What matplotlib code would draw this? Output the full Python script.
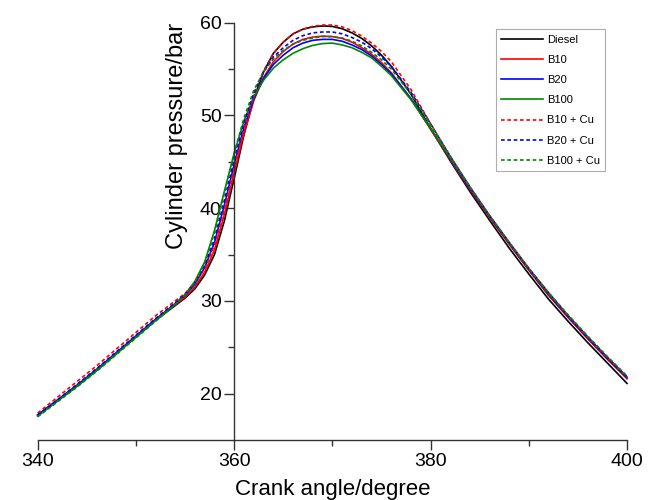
import matplotlib
matplotlib.use('Agg')
import matplotlib.pyplot as plt
from matplotlib.ticker import MultipleLocator

plt.rcParams['font.family'] = ['Liberation Sans', 'DejaVu Sans']

# crank angle grid (degree)
angle = [340, 342, 344, 346, 348, 350, 352, 354, 355, 356, 357, 358, 359, 360,
         361, 362, 363, 364, 365, 366, 367, 368, 369, 370, 371, 372, 373, 374,
         375, 376, 378, 380, 382, 384, 386, 388, 390, 392, 394, 396, 398, 400]

# cylinder pressure (bar)
diesel = [17.6, 19.2, 20.8, 22.5, 24.3, 26.1, 27.9, 29.5, 30.3, 31.3, 32.8, 35.0, 38.6, 43.2,
          47.9, 51.8, 54.7, 56.7, 57.9, 58.8, 59.3, 59.55, 59.65, 59.6, 59.35, 58.9, 58.3, 57.5,
          56.5, 55.3, 52.3, 48.6, 45.1, 41.8, 38.7, 35.7, 32.9, 30.2, 27.8, 25.5, 23.3, 21.1]
b10 = [17.7, 19.3, 20.9, 22.6, 24.4, 26.2, 28.0, 29.6, 30.4, 31.5, 33.1, 35.5, 39.3, 43.8,
       48.1, 51.6, 54.1, 55.8, 56.9, 57.7, 58.2, 58.45, 58.55, 58.5, 58.3, 57.9, 57.3, 56.6,
       55.7, 54.6, 51.8, 48.5, 45.2, 42.0, 39.0, 36.1, 33.3, 30.6, 28.2, 25.9, 23.7, 21.6]
b20 = [17.7, 19.3, 20.9, 22.6, 24.4, 26.2, 28.0, 29.7, 30.6, 31.8, 33.6, 36.3, 40.3, 44.7,
       48.7, 51.8, 54.0, 55.5, 56.5, 57.3, 57.8, 58.1, 58.2, 58.2, 58.0, 57.6, 57.1, 56.4,
       55.5, 54.5, 51.8, 48.6, 45.3, 42.1, 39.1, 36.2, 33.4, 30.7, 28.3, 26.0, 23.8, 21.7]
b100 = [17.6, 19.2, 20.8, 22.5, 24.3, 26.1, 27.9, 29.7, 30.7, 32.1, 34.2, 37.6, 41.8, 45.9,
        49.4, 52.0, 53.8, 55.1, 56.0, 56.7, 57.2, 57.55, 57.75, 57.8, 57.6, 57.3, 56.8, 56.2,
        55.3, 54.3, 51.7, 48.6, 45.4, 42.2, 39.2, 36.3, 33.5, 30.8, 28.4, 26.1, 23.9, 21.8]
b10_cu = [17.9, 19.6, 21.3, 23.0, 24.8, 26.6, 28.4, 30.0, 30.8, 31.9, 33.5, 36.0, 39.8, 44.3,
          48.6, 52.2, 54.8, 56.7, 57.9, 58.8, 59.3, 59.6, 59.75, 59.75, 59.55, 59.15, 58.55, 57.8,
          56.9, 55.8, 52.8, 49.1, 45.6, 42.3, 39.2, 36.3, 33.5, 30.9, 28.4, 26.1, 23.9, 21.8]
b20_cu = [17.7, 19.3, 21.0, 22.7, 24.5, 26.3, 28.1, 29.8, 30.7, 31.9, 33.8, 36.7, 40.8, 45.2,
          49.2, 52.4, 54.7, 56.3, 57.3, 58.1, 58.6, 58.9, 59.0, 59.0, 58.8, 58.4, 57.9, 57.2,
          56.3, 55.3, 52.5, 49.1, 45.6, 42.3, 39.2, 36.3, 33.5, 30.9, 28.4, 26.1, 23.9, 21.8]
b100_cu = [17.5, 19.1, 20.7, 22.4, 24.2, 26.0, 27.8, 29.6, 30.6, 32.0, 34.1, 37.4, 41.6, 45.9,
           49.7, 52.7, 54.7, 56.1, 57.0, 57.7, 58.1, 58.35, 58.5, 58.5, 58.35, 58.0, 57.5, 56.8,
           56.0, 55.0, 52.3, 49.0, 45.6, 42.3, 39.2, 36.3, 33.5, 30.9, 28.5, 26.2, 24.0, 21.9]

series = [
    ('Diesel', diesel, 'black', '-'),
    ('B10', b10, '#ff0000', '-'),
    ('B20', b20, '#0000ff', '-'),
    ('B100', b100, '#008800', '-'),
    ('B10 + Cu', b10_cu, '#ff0000', (0, (2.2, 1.6))),
    ('B20 + Cu', b20_cu, '#0000ff', (0, (2.2, 1.6))),
    ('B100 + Cu', b100_cu, '#008800', (0, (2.2, 1.6))),
]

fig = plt.figure(figsize=(6.52, 5.0), dpi=100)
ax = fig.add_axes([0.0578, 0.12, 0.9039, 0.8346])

for name, vals, col, ls in series:
    ax.plot(angle, vals, color=col, linestyle=ls, linewidth=1.2, label=name, clip_on=False)

ax.set_xlim(340, 400)
ax.set_ylim(15, 60)

ax.spines['top'].set_visible(False)
ax.spines['right'].set_visible(False)
ax.spines['left'].set_position(('data', 360))
for s in ('left', 'bottom'):
    ax.spines[s].set_color('#333333')
    ax.spines[s].set_linewidth(1.0)

ax.xaxis.set_major_locator(MultipleLocator(20))
ax.xaxis.set_minor_locator(MultipleLocator(10))
ax.set_yticks([20, 30, 40, 50, 60])
ax.set_yticks([25, 35, 45, 55], minor=True)
ax.tick_params(which='major', direction='out', length=7, width=1.0, color='#333333',
               labelsize=14, pad=2)
ax.tick_params(which='minor', direction='out', length=4, width=1.0, color='#333333')

ax.set_xlabel('Crank angle/degree', fontsize=16, labelpad=7)
ax.set_ylabel('Cylinder pressure/bar', fontsize=17)
ax.yaxis.set_label_coords(0.255, 0.728)

leg = ax.legend(loc='upper right', bbox_to_anchor=(0.963, 0.985), borderaxespad=0,
                fontsize=8, frameon=True, fancybox=False, handlelength=3.8,
                handletextpad=0.3, labelspacing=0.92, borderpad=0.5)
leg.get_frame().set_edgecolor('#999999')
leg.get_frame().set_linewidth(0.8)

fig.savefig('out.png', dpi=100)
